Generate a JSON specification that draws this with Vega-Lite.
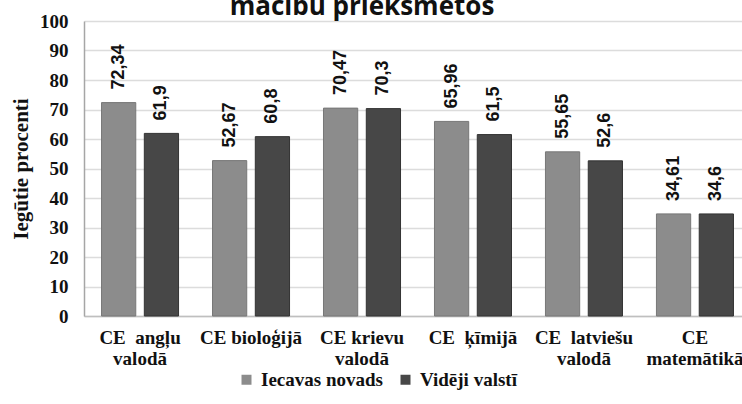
{
  "$schema": "https://vega.github.io/schema/vega-lite/v6.json",
  "width": 658,
  "height": 295,
  "autosize": {"type": "none"},
  "padding": {"left": 84, "top": 21, "right": 0, "bottom": 88},
  "background": "white",
  "config": {
    "font": "Liberation Serif",
    "locale": {"number": {"decimal": ",", "thousands": " ", "grouping": [3], "currency": ["", ""]}},
    "view": {"stroke": null}
  },
  "title": {
    "text": "mācību priekšmetos",
    "font": "Open Sans",
    "fontSize": 26,
    "fontWeight": "bold",
    "anchor": "middle",
    "baseline": "alphabetic",
    "offset": -29,
    "dx": -51,
    "color": "#111111"
  },
  "data": {
    "values": [
      {"subject": "CE\u00a0 angļu|valodā", "series": "Iecavas novads", "value": 72.34},
      {"subject": "CE\u00a0 angļu|valodā", "series": "Vidēji valstī", "value": 61.9},
      {"subject": "CE bioloģijā", "series": "Iecavas novads", "value": 52.67},
      {"subject": "CE bioloģijā", "series": "Vidēji valstī", "value": 60.8},
      {"subject": "CE krievu|valodā", "series": "Iecavas novads", "value": 70.47},
      {"subject": "CE krievu|valodā", "series": "Vidēji valstī", "value": 70.3},
      {"subject": "CE\u00a0 ķīmijā", "series": "Iecavas novads", "value": 65.96},
      {"subject": "CE\u00a0 ķīmijā", "series": "Vidēji valstī", "value": 61.5},
      {"subject": "CE\u00a0 latviešu|valodā", "series": "Iecavas novads", "value": 55.65},
      {"subject": "CE\u00a0 latviešu|valodā", "series": "Vidēji valstī", "value": 52.6},
      {"subject": "CE|matemātikā", "series": "Iecavas novads", "value": 34.61},
      {"subject": "CE|matemātikā", "series": "Vidēji valstī", "value": 34.6}
    ]
  },
  "encoding": {
    "x": {
      "field": "subject",
      "type": "nominal",
      "sort": null,
      "scale": {"range": [0, 667], "paddingInner": 0.306, "paddingOuter": 0.158},
      "axis": {
        "title": null,
        "labelAngle": 0,
        "labelExpr": "split(datum.value, '|')",
        "labelFont": "Liberation Serif",
        "labelFontWeight": "bold",
        "labelFontSize": 19,
        "labelColor": "#111111",
        "labelLineHeight": 21,
        "labelPadding": 12,
        "ticks": false,
        "domainColor": "#bfbfbf",
        "domainWidth": 1.5,
        "grid": false
      }
    },
    "xOffset": {
      "field": "series",
      "type": "nominal",
      "sort": ["Iecavas novads", "Vidēji valstī"],
      "scale": {"paddingInner": 0.2, "paddingOuter": 0}
    },
    "y": {
      "field": "value",
      "type": "quantitative",
      "scale": {"domain": [0, 100], "nice": false},
      "axis": {
        "title": "Iegūtie procenti",
        "titleFont": "Liberation Serif",
        "titleFontWeight": "bold",
        "titleFontSize": 21,
        "titleColor": "#111111",
        "titlePadding": 8,
        "values": [0, 10, 20, 30, 40, 50, 60, 70, 80, 90, 100],
        "labelFont": "Liberation Serif",
        "labelFontWeight": "bold",
        "labelFontSize": 19,
        "labelColor": "#111111",
        "labelPadding": 16,
        "ticks": false,
        "domainColor": "#a6a6a6",
        "domainWidth": 1.5,
        "gridColor": "#dcdcdc",
        "gridWidth": 1.5
      }
    }
  },
  "layer": [
    {
      "mark": {"type": "bar", "strokeWidth": 1},
      "encoding": {
        "color": {
          "field": "series",
          "type": "nominal",
          "scale": {"domain": ["Iecavas novads", "Vidēji valstī"], "range": ["#8c8c8c", "#474747"]},
          "legend": {
            "title": null,
            "orient": "none",
            "legendX": 153,
            "legendY": 349,
            "direction": "horizontal",
            "symbolType": "square",
            "symbolSize": 100,
            "symbolStrokeWidth": 0,
            "labelFont": "Liberation Serif",
            "labelFontWeight": "bold",
            "labelFontSize": 19,
            "labelColor": "#111111",
            "labelOffset": 5,
            "columnPadding": 13
          }
        },
        "stroke": {
          "field": "series",
          "type": "nominal",
          "scale": {"domain": ["Iecavas novads", "Vidēji valstī"], "range": ["#777777", "#333333"]},
          "legend": null
        }
      }
    },
    {
      "mark": {
        "type": "text",
        "angle": 270,
        "align": "left",
        "baseline": "middle",
        "dx": 13,
        "font": "Liberation Sans",
        "fontWeight": "bold",
        "fontSize": 18,
        "color": "#111111"
      },
      "encoding": {
        "text": {"field": "value", "type": "quantitative", "format": ".4~g"}
      }
    }
  ]
}
